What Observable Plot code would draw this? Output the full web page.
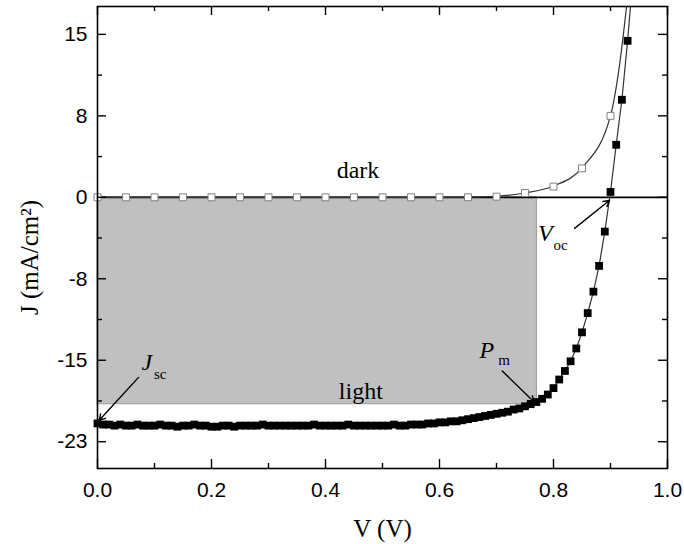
<!DOCTYPE html>
<html>
<head>
<meta charset="utf-8">
<script src="https://cdn.jsdelivr.net/npm/d3@7"></script>
<script src="https://cdn.jsdelivr.net/npm/@observablehq/plot@0.6"></script>
<style>
  html, body { margin: 0; padding: 0; background: #fff; }
  #chart svg { display: block; }
</style>
</head>
<body>
<div id="chart"></div>
<script>
// ---- Data ----
const xTicks = [0, 0.2, 0.4, 0.6, 0.8, 1.0];
const xTickLabels = ["0.0", "0.2", "0.4", "0.6", "0.8", "1.0"];
const xMinor = [0.1, 0.3, 0.5, 0.7, 0.9];
const yTicks = [15.2, 7.6, 0, -7.6, -15.2, -22.8];
const yTickLabels = ["15", "8", "0", "-8", "-15", "-23"];
const yMinor = [11.4, 3.8, -3.8, -11.4, -19.0];

// light J-V measurement (filled squares)
const lightV = [0.00,0.01,0.02,0.03,0.04,0.05,0.06,0.07,0.08,0.09,
  0.10,0.11,0.12,0.13,0.14,0.15,0.16,0.17,0.18,0.19,
  0.20,0.21,0.22,0.23,0.24,0.25,0.26,0.27,0.28,0.29,
  0.30,0.31,0.32,0.33,0.34,0.35,0.36,0.37,0.38,0.39,
  0.40,0.41,0.42,0.43,0.44,0.45,0.46,0.47,0.48,0.49,
  0.50,0.51,0.52,0.53,0.54,0.55,0.56,0.57,0.58,0.59,
  0.60,0.61,0.62,0.63,0.64,0.65,0.66,0.67,0.68,0.69,
  0.70,0.71,0.72,0.73,0.74,0.75,0.76,0.77,0.78,0.79,
  0.80,0.81,0.82,0.83,0.84,0.85,0.86,0.87,0.88,0.89,
  0.90,0.91,0.92,0.93];
const lightJ = [-21.1,-21.2,-21.2,-21.3,-21.2,-21.3,-21.3,-21.2,-21.3,-21.3,
  -21.3,-21.2,-21.3,-21.3,-21.4,-21.3,-21.3,-21.2,-21.3,-21.3,
  -21.4,-21.4,-21.3,-21.3,-21.4,-21.3,-21.3,-21.3,-21.3,-21.2,
  -21.3,-21.3,-21.3,-21.3,-21.3,-21.3,-21.3,-21.3,-21.2,-21.3,
  -21.3,-21.3,-21.3,-21.3,-21.2,-21.3,-21.3,-21.3,-21.3,-21.3,
  -21.3,-21.3,-21.2,-21.3,-21.3,-21.2,-21.2,-21.2,-21.1,-21.1,
  -21.0,-21.0,-20.9,-20.9,-20.8,-20.7,-20.6,-20.5,-20.4,-20.3,
  -20.2,-20.1,-20.0,-19.8,-19.7,-19.5,-19.3,-19.1,-18.8,-18.4,
  -17.8,-17.0,-16.2,-15.3,-14.1,-12.6,-10.8,-8.8,-6.4,-3.2,
  0.5,4.9,9.1,14.6];
// light fit line continues to the top of the frame
const lightTopV = [0.936];
const lightTopJ = [18.4];

// dark J-V measurement (open squares)
const darkV = [0,0.05,0.10,0.15,0.20,0.25,0.30,0.35,0.40,0.45,0.50,0.55,0.60,0.65,0.70,0.75,0.80,0.85,0.90];
const darkJ = [0,0,0,0,0,0,0,0,0,0,0,0,0,0.01,0.06,0.4,1.0,2.7,7.6];
// dark fit line
const darkFitV = [0, 0.60, 0.65, 0.70, 0.75, 0.80, 0.85, 0.90, 0.915, 0.929];
const darkFitJ = [0, 0, 0.02, 0.1, 0.4, 1.05, 2.75, 7.6, 12.0, 18.2];

// maximum power point (shaded rectangle corner)
const pmV = 0.771, pmJ = -19.3;

// annotations (data units)
const labelText = ["dark", "light"];
const labelV = [0.457, 0.462];
const labelJ = [2.56, -18.06];
const symText = ["J", "P", "V"];
const symV = [0.077, 0.670, 0.773];
const symJ = [-15.35, -14.24, -3.32];
const subText = ["sc", "m", "oc"];
const subV = [0.099, 0.703, 0.800];
const subJ = [-16.53, -15.22, -4.5];
const arrowV1 = [0.072, 0.710, 0.837];
const arrowJ1 = [-16.8, -16.2, -2.9];
const arrowV2 = [0.003, 0.766, 0.898];
const arrowJ2 = [-20.8, -19.1, -0.3];

// ---- build tables ----
const light = lightV.map((v, i) => ({V: v, J: lightJ[i]}));
const lightFit = light.concat(lightTopV.map((v, i) => ({V: v, J: lightTopJ[i]})));
const dark = darkV.map((v, i) => ({V: v, J: darkJ[i]}));
const darkFit = darkFitV.map((v, i) => ({V: v, J: darkFitJ[i]}));
const labels = labelText.map((t, i) => ({t, V: labelV[i], J: labelJ[i]}));
const syms = symText.map((t, i) => ({t, V: symV[i], J: symJ[i]}));
const subs = subText.map((t, i) => ({t, V: subV[i], J: subJ[i]}));
const arrows = arrowV1.map((v, i) => ({x1: v, y1: arrowJ1[i], x2: arrowV2[i], y2: arrowJ2[i]}));

const W = 684, H = 544;
const mL = 97, mR = 17, mT = 6, mB = 76;
const fW = W - mL - mR, fH = H - mT - mB;
const serif = "Liberation Serif, Times New Roman, serif";

const chart = Plot.plot({
  width: W,
  height: H,
  marginLeft: mL,
  marginRight: mR,
  marginTop: mT,
  marginBottom: mB,
  style: {fontFamily: "Liberation Sans, Arial, sans-serif", fontSize: "21px", color: "black", background: "white"},
  x: {domain: [0, 1]},
  y: {domain: [-25.3, 17.8]},
  marks: [
    Plot.rect([{x1: 0, x2: pmV, y1: pmJ, y2: 0}], {x1: "x1", x2: "x2", y1: "y1", y2: "y2", fill: "#c0c0c0", stroke: "#a2a2a2", strokeWidth: 1.2}),
    Plot.ruleY([0], {stroke: "black", strokeWidth: 1.8}),
    Plot.line(darkFit, {x: "V", y: "J", curve: "monotone-x", stroke: "#333", strokeWidth: 1.2, clip: true}),
    Plot.dot(dark, {x: "V", y: "J", symbol: "square", r: 3.9, fill: "white", stroke: "#808080", strokeWidth: 1}),
    Plot.line(lightFit, {x: "V", y: "J", stroke: "#333", strokeWidth: 1.2, clip: true}),
    Plot.dot(light, {x: "V", y: "J", symbol: "square", r: 4.4, fill: "black", stroke: "none"}),
    Plot.arrow(arrows, {x1: "x1", y1: "y1", x2: "x2", y2: "y2", stroke: "black", strokeWidth: 1.4, headLength: 7}),
    Plot.text(labels, {x: "V", y: "J", text: "t", fontFamily: serif, fontSize: 24, fill: "black"}),
    Plot.text(syms, {x: "V", y: "J", text: "t", fontFamily: serif, fontStyle: "italic", fontSize: 24, textAnchor: "start", fill: "black"}),
    Plot.text(subs, {x: "V", y: "J", text: "t", fontFamily: serif, fontSize: 15, textAnchor: "start", fill: "black"}),
    Plot.frame({stroke: "black", strokeWidth: 1.6}),
    // inward ticks on all four sides
    Plot.tickX(xTicks, {x: d => d, insetTop: fH - 9, stroke: "black", strokeWidth: 1.4}),
    Plot.tickX(xTicks, {x: d => d, insetBottom: fH - 9, stroke: "black", strokeWidth: 1.4}),
    Plot.tickX(xMinor, {x: d => d, insetTop: fH - 5, stroke: "black", strokeWidth: 1.4}),
    Plot.tickX(xMinor, {x: d => d, insetBottom: fH - 5, stroke: "black", strokeWidth: 1.4}),
    Plot.tickY(yTicks, {y: d => d, insetRight: fW - 9, stroke: "black", strokeWidth: 1.4}),
    Plot.tickY(yTicks, {y: d => d, insetLeft: fW - 9, stroke: "black", strokeWidth: 1.4}),
    Plot.tickY(yMinor, {y: d => d, insetRight: fW - 5, stroke: "black", strokeWidth: 1.4}),
    Plot.tickY(yMinor, {y: d => d, insetLeft: fW - 5, stroke: "black", strokeWidth: 1.4}),
    Plot.axisX(xTicks, {tickSize: 0, tickPadding: 14, tickFormat: (d, i) => xTickLabels[i], label: null}),
    Plot.axisY(yTicks, {tickSize: 0, tickPadding: 10, tickFormat: (d, i) => yTickLabels[i], label: null}),
    Plot.text(["V (V)"], {frameAnchor: "bottom", lineAnchor: "middle", textAnchor: "middle", dy: 60, fontFamily: serif, fontSize: 25, fill: "black"}),
    Plot.text(["J (mA/cm²)"], {frameAnchor: "left", lineAnchor: "middle", textAnchor: "middle", rotate: -90, dx: -68, dy: 20, fontFamily: serif, fontSize: 25, fill: "black"})
  ]
});
document.getElementById("chart").appendChild(chart);
</script>
</body>
</html>
